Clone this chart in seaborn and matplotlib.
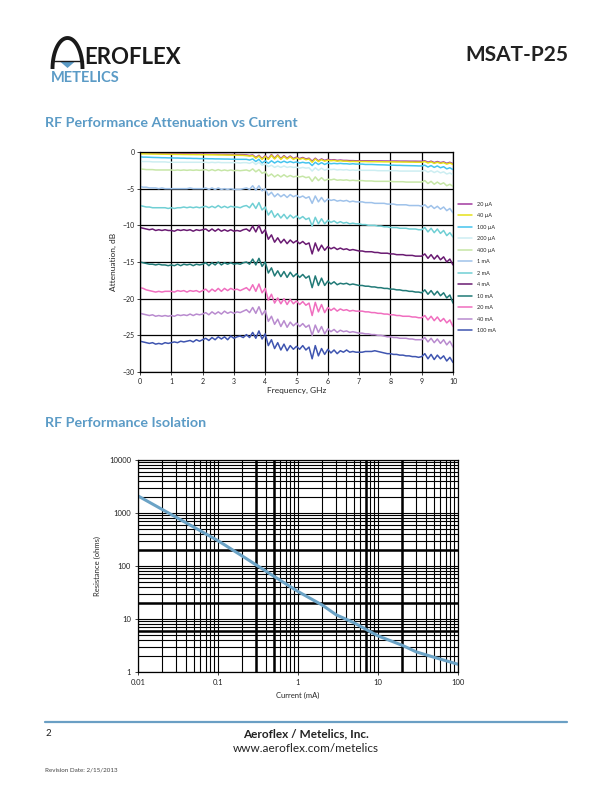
import numpy as np
import pandas as pd
import matplotlib
matplotlib.use('Agg')
import matplotlib.pyplot as plt
import seaborn as sns

# ---- attenuation vs frequency, one list per bias current (0..10 GHz, 0.1 GHz step)
freq = np.round(np.linspace(0, 10, 101), 1)
labels = ['20 µA', '40 µA', '100 µA', '200 µA', '400 µA', '1 mA', '2 mA', '4 mA', '10 mA', '20 mA', '40 mA', '100 mA']
colors = ['#a2399f', '#e6e01a', '#45c4ee', '#cdeef2', '#c6e6a6', '#9fc2ea', '#70cfd4', '#6a1b72', '#217a77', '#f06ebf', '#b98bcf', '#3f55b0']

att_20ua = [-0.12, -0.13, -0.14, -0.15, -0.16, -0.17, -0.18, -0.19, -0.2, -0.2, -0.21, -0.22, -0.22, -0.23, -0.24, -0.24, -0.25, -0.26, -0.26, -0.27,
            -0.28, -0.28, -0.29, -0.3, -0.3, -0.31, -0.32, -0.32, -0.33, -0.34, -0.34, -0.35, -0.36, -0.37, -0.4, -0.48, -0.4, -0.75, -0.45, -0.9,
            -0.5, -0.9, -0.35, -0.85, -0.4, -0.9, -0.5, -0.85, -0.55, -0.9, -0.7, -0.9, -0.75, -0.95, -0.85, -1.25, -0.85, -1.2, -0.95, -1.15,
            -1.0, -1.1, -1.05, -1.15, -1.1, -1.15, -1.15, -1.18, -1.18, -1.2, -1.2, -1.2, -1.2, -1.21, -1.21, -1.22, -1.22, -1.22, -1.23, -1.23,
            -1.24, -1.24, -1.24, -1.25, -1.25, -1.25, -1.26, -1.26, -1.26, -1.27, -1.27, -1.2, -1.4, -1.25, -1.45, -1.3, -1.45, -1.35, -1.55, -1.4, -1.6]
att_40ua = [-0.25, -0.25, -0.26, -0.27, -0.28, -0.28, -0.29, -0.3, -0.3, -0.31, -0.32, -0.32, -0.33, -0.33, -0.34, -0.34, -0.35, -0.35, -0.36, -0.36,
            -0.37, -0.37, -0.38, -0.38, -0.39, -0.4, -0.4, -0.41, -0.42, -0.42, -0.43, -0.44, -0.45, -0.46, -0.5, -0.55, -0.5, -0.85, -0.55, -1.0,
            -0.6, -1.0, -0.45, -0.95, -0.5, -1.0, -0.6, -0.95, -0.65, -1.0, -0.8, -1.0, -0.85, -1.05, -0.95, -1.4, -0.95, -1.3, -1.05, -1.25,
            -1.1, -1.2, -1.15, -1.25, -1.2, -1.25, -1.25, -1.3, -1.28, -1.3, -1.3, -1.3, -1.3, -1.32, -1.32, -1.32, -1.33, -1.33, -1.34, -1.34,
            -1.35, -1.35, -1.36, -1.36, -1.37, -1.37, -1.38, -1.38, -1.39, -1.39, -1.4, -1.3, -1.5, -1.35, -1.55, -1.4, -1.55, -1.45, -1.65, -1.5, -1.7]
att_100ua = [-0.65, -0.7, -0.7, -0.72, -0.74, -0.75, -0.76, -0.78, -0.78, -0.8, -0.8, -0.82, -0.82, -0.84, -0.84, -0.86, -0.86, -0.88, -0.88, -0.9,
             -0.9, -0.9, -0.92, -0.92, -0.94, -0.94, -0.95, -0.96, -0.96, -0.98, -0.98, -1.0, -1.0, -1.0, -1.0, -1.1, -0.95, -1.3, -1.0, -1.5,
             -1.2, -1.55, -1.2, -1.5, -1.25, -1.45, -1.25, -1.45, -1.3, -1.45, -1.35, -1.5, -1.4, -1.5, -1.45, -1.85, -1.4, -1.7, -1.45, -1.7,
             -1.5, -1.6, -1.55, -1.6, -1.55, -1.6, -1.6, -1.65, -1.6, -1.65, -1.65, -1.65, -1.7, -1.7, -1.7, -1.72, -1.74, -1.75, -1.76, -1.78,
             -1.8, -1.8, -1.82, -1.82, -1.84, -1.85, -1.86, -1.87, -1.88, -1.9, -1.9, -1.8, -2.05, -1.85, -2.1, -1.9, -2.15, -2.0, -2.3, -2.15, -2.4]
att_200ua = [-1.25, -1.3, -1.3, -1.3, -1.35, -1.35, -1.35, -1.35, -1.35, -1.4, -1.4, -1.4, -1.4, -1.4, -1.4, -1.4, -1.4, -1.4, -1.4, -1.4,
             -1.4, -1.4, -1.45, -1.4, -1.45, -1.4, -1.45, -1.45, -1.45, -1.45, -1.45, -1.45, -1.5, -1.45, -1.45, -1.55, -1.35, -1.7, -1.4, -1.8,
             -1.6, -2.0, -1.8, -2.1, -1.9, -2.1, -1.9, -2.1, -2.0, -2.1, -2.05, -2.2, -2.1, -2.2, -2.15, -2.6, -2.15, -2.5, -2.2, -2.5,
             -2.3, -2.4, -2.35, -2.45, -2.4, -2.45, -2.4, -2.5, -2.45, -2.5, -2.45, -2.5, -2.5, -2.5, -2.5, -2.5, -2.55, -2.55, -2.55, -2.55,
             -2.55, -2.55, -2.55, -2.6, -2.6, -2.6, -2.6, -2.6, -2.6, -2.6, -2.6, -2.5, -2.75, -2.55, -2.8, -2.6, -2.85, -2.7, -3.0, -2.85, -3.1]
att_400ua = [-2.3, -2.35, -2.4, -2.4, -2.4, -2.45, -2.45, -2.45, -2.45, -2.45, -2.45, -2.5, -2.45, -2.5, -2.45, -2.5, -2.45, -2.5, -2.45, -2.5,
             -2.45, -2.4, -2.55, -2.4, -2.55, -2.4, -2.55, -2.45, -2.55, -2.45, -2.55, -2.5, -2.55, -2.5, -2.45, -2.6, -2.3, -2.7, -2.4, -2.9,
             -2.7, -3.3, -3.0, -3.4, -3.1, -3.4, -3.1, -3.4, -3.2, -3.4, -3.3, -3.4, -3.3, -3.5, -3.4, -4.0, -3.4, -3.9, -3.5, -3.9,
             -3.7, -3.8, -3.7, -3.85, -3.8, -3.85, -3.8, -3.9, -3.85, -3.9, -3.9, -3.9, -3.95, -3.95, -3.95, -4.0, -4.0, -4.0, -4.0, -4.0,
             -4.0, -4.05, -4.05, -4.05, -4.05, -4.1, -4.1, -4.1, -4.1, -4.1, -4.1, -3.9, -4.3, -4.0, -4.4, -4.1, -4.4, -4.2, -4.6, -4.4, -4.7]
att_1ma = [-4.7, -4.8, -4.8, -4.9, -4.9, -4.9, -5.0, -4.9, -5.0, -5.0, -5.0, -5.0, -5.0, -5.0, -5.0, -5.0, -4.9, -5.0, -5.0, -5.0,
           -5.0, -4.9, -5.1, -4.9, -5.1, -4.9, -5.1, -5.0, -5.1, -5.0, -5.1, -5.1, -5.1, -5.0, -4.9, -5.1, -4.6, -5.2, -4.6, -5.3,
           -5.0, -5.9, -5.5, -6.1, -5.7, -6.1, -5.8, -6.2, -5.8, -6.1, -5.9, -6.2, -6.0, -6.3, -6.1, -7.0, -6.0, -6.8, -6.2, -6.8,
           -6.4, -6.6, -6.5, -6.7, -6.6, -6.7, -6.6, -6.8, -6.7, -6.8, -6.8, -6.8, -6.9, -6.9, -6.9, -7.0, -7.0, -7.0, -7.0, -7.1,
           -7.1, -7.1, -7.2, -7.2, -7.2, -7.2, -7.3, -7.3, -7.3, -7.3, -7.4, -7.2, -7.6, -7.3, -7.7, -7.4, -7.8, -7.5, -8.0, -7.7, -8.3]
att_2ma = [-7.3, -7.4, -7.5, -7.5, -7.6, -7.6, -7.6, -7.6, -7.6, -7.7, -7.6, -7.7, -7.6, -7.6, -7.5, -7.6, -7.5, -7.6, -7.5, -7.6,
           -7.5, -7.4, -7.6, -7.4, -7.6, -7.3, -7.6, -7.4, -7.6, -7.4, -7.5, -7.5, -7.6, -7.4, -7.3, -7.6, -7.0, -7.7, -6.9, -7.9,
           -7.5, -8.6, -8.0, -8.9, -8.4, -9.0, -8.5, -9.1, -8.6, -9.0, -8.7, -9.1, -8.8, -9.2, -9.0, -10.1, -8.9, -9.8, -9.1, -9.8,
           -9.3, -9.6, -9.4, -9.7, -9.5, -9.7, -9.6, -9.8, -9.7, -9.8, -9.8, -9.9, -9.9, -10.0, -10.0, -10.0, -10.1, -10.1, -10.2, -10.2,
           -10.3, -10.3, -10.3, -10.4, -10.4, -10.4, -10.5, -10.5, -10.5, -10.6, -10.6, -10.3, -10.9, -10.4, -11.0, -10.5, -11.1, -10.7, -11.4, -11.0, -11.6]
att_4ma = [-10.3, -10.4, -10.5, -10.6, -10.5, -10.7, -10.6, -10.7, -10.6, -10.7, -10.7, -10.8, -10.6, -10.7, -10.6, -10.7, -10.6, -10.8, -10.6, -10.7,
           -10.6, -10.5, -10.8, -10.5, -10.8, -10.5, -10.8, -10.6, -10.8, -10.6, -10.8, -10.7, -10.8, -10.6, -10.5, -10.8, -10.1, -10.9, -10.0, -11.1,
           -10.6, -11.9, -11.3, -12.3, -11.7, -12.4, -11.9, -12.5, -12.0, -12.4, -12.1, -12.5, -12.2, -12.6, -12.4, -13.9, -12.4, -13.5, -12.7, -13.4,
           -12.9, -13.2, -13.0, -13.3, -13.1, -13.3, -13.2, -13.4, -13.3, -13.4, -13.5, -13.5, -13.6, -13.6, -13.6, -13.7, -13.7, -13.8, -13.8, -13.8,
           -13.9, -13.9, -14.0, -14.0, -14.0, -14.1, -14.1, -14.1, -14.2, -14.2, -14.2, -13.9, -14.5, -14.0, -14.6, -14.1, -14.7, -14.3, -15.0, -14.6, -15.4]
att_10ma = [-15.0, -15.1, -15.2, -15.3, -15.3, -15.4, -15.3, -15.4, -15.4, -15.5, -15.4, -15.5, -15.3, -15.5, -15.3, -15.4, -15.3, -15.5, -15.3, -15.4,
            -15.3, -15.1, -15.5, -15.1, -15.4, -15.0, -15.4, -15.1, -15.3, -15.1, -15.3, -15.2, -15.3, -15.1, -15.0, -15.3, -14.6, -15.4, -14.5, -15.6,
            -15.0, -16.5, -15.8, -16.9, -16.2, -17.0, -16.3, -17.1, -16.4, -17.0, -16.6, -17.1, -16.7, -17.2, -16.9, -18.5, -16.9, -18.2, -17.2, -18.2,
            -17.6, -18.0, -17.7, -18.1, -17.9, -18.0, -17.9, -18.1, -18.0, -18.1, -18.2, -18.2, -18.3, -18.3, -18.4, -18.4, -18.5, -18.5, -18.6, -18.6,
            -18.7, -18.7, -18.8, -18.8, -18.9, -18.9, -19.0, -19.0, -19.1, -19.1, -19.2, -18.8, -19.4, -18.9, -19.5, -19.0, -19.6, -19.2, -19.9, -19.5, -20.6]
att_20ma = [-18.5, -18.6, -18.8, -18.9, -19.0, -19.1, -19.0, -19.1, -19.0, -19.0, -19.0, -19.1, -18.9, -19.0, -18.9, -19.1, -18.9, -19.0, -18.9, -19.1,
            -18.9, -18.7, -19.1, -18.7, -19.0, -18.6, -19.0, -18.6, -18.9, -18.6, -18.8, -18.7, -18.9, -18.7, -18.5, -18.9, -18.1, -19.0, -18.0, -19.2,
            -18.6, -20.2, -19.4, -20.6, -19.9, -20.7, -20.0, -20.8, -20.1, -20.7, -20.3, -20.8, -20.4, -20.9, -20.6, -22.3, -20.5, -21.8, -20.8, -21.9,
            -21.2, -21.6, -21.3, -21.7, -21.4, -21.6, -21.5, -21.7, -21.6, -21.7, -21.7, -21.7, -21.8, -21.8, -21.9, -21.9, -22.0, -22.0, -22.1, -22.1,
            -22.2, -22.2, -22.3, -22.3, -22.4, -22.4, -22.4, -22.5, -22.5, -22.6, -22.6, -22.3, -22.9, -22.4, -23.0, -22.5, -23.1, -22.7, -23.3, -22.9, -23.8]
att_40ma = [-22.0, -22.1, -22.2, -22.3, -22.2, -22.4, -22.3, -22.4, -22.3, -22.4, -22.3, -22.4, -22.2, -22.3, -22.2, -22.3, -22.1, -22.3, -22.1, -22.2,
            -22.1, -21.9, -22.2, -21.8, -22.1, -21.8, -22.1, -21.7, -22.0, -21.8, -22.0, -21.8, -21.9, -21.7, -21.5, -21.9, -21.2, -22.0, -21.1, -22.2,
            -21.6, -23.1, -22.4, -23.5, -22.8, -23.8, -23.0, -23.9, -23.2, -23.7, -23.3, -23.8, -23.4, -23.9, -23.6, -25.0, -23.6, -24.6, -23.8, -24.8,
            -24.1, -24.5, -24.2, -24.6, -24.3, -24.5, -24.4, -24.6, -24.5, -24.6, -24.7, -24.7, -24.8, -24.8, -24.9, -24.9, -25.0, -25.0, -25.1, -25.2,
            -25.2, -25.3, -25.3, -25.4, -25.4, -25.4, -25.5, -25.5, -25.6, -25.6, -25.6, -25.3, -25.9, -25.4, -26.0, -25.5, -26.1, -25.6, -26.3, -25.8, -26.6]
att_100ma = [-25.8, -25.9, -26.0, -26.1, -26.0, -26.2, -26.1, -26.2, -26.0, -26.1, -26.0, -25.9, -26.0, -25.8, -25.9, -25.8, -25.7, -25.9, -25.6, -25.8,
             -25.6, -25.4, -25.7, -25.3, -25.6, -25.2, -25.5, -25.2, -25.6, -25.1, -25.4, -25.2, -25.1, -25.3, -24.9, -25.3, -24.6, -25.4, -24.4, -25.5,
             -24.8, -26.4, -25.6, -26.8, -26.0, -27.0, -26.2, -27.1, -26.4, -26.9, -26.5, -26.9, -26.4, -27.0, -26.6, -28.2, -26.4, -27.8, -26.8, -27.6,
             -26.9, -27.4, -27.0, -27.5, -27.1, -27.3, -27.0, -27.3, -27.2, -27.3, -27.3, -27.3, -27.2, -27.2, -27.2, -27.1, -27.2, -27.3, -27.4, -27.5,
             -27.5, -27.6, -27.6, -27.7, -27.7, -27.8, -27.8, -27.9, -27.9, -28.0, -27.9, -27.5, -28.2, -27.6, -28.3, -27.7, -28.2, -27.8, -28.5, -28.0, -28.7]

series = [att_20ua, att_40ua, att_100ua, att_200ua, att_400ua, att_1ma,
          att_2ma, att_4ma, att_10ma, att_20ma, att_40ma, att_100ma]

# ---- isolation: resistance vs current
current_ma = [0.01, 0.02, 0.05, 0.1, 0.2, 0.5, 1, 2, 3, 5, 10, 20, 30, 50, 100]
resistance = [2100, 1170, 540, 300, 155, 64, 33, 18.4, 12, 8.5, 4.8, 3.2, 2.4, 1.9, 1.4]

blue = '#5b9bc6'
sns.set_style('white')
plt.rcParams['font.family'] = ['Lato', 'DejaVu Sans']

fig = plt.figure(figsize=(6.12, 7.92), dpi=100)

# page decoration layer in pixel coordinates
page = fig.add_axes([0, 0, 1, 1])
page.set_xlim(0, 612)
page.set_ylim(792, 0)
page.axis('off')

t = np.linspace(0, np.pi, 60)
page.plot(67.5 - 15 * np.cos(t), 69 - 31 * np.sin(t), color='#1a1a1a', lw=2.8, solid_capstyle='butt')
page.plot([52, 83], [60.5, 60.5], color='#1a1a1a', lw=1.0)
page.fill([60, 75, 67.5], [61.5, 61.5, 68], color=blue, lw=0)
page.text(84, 58, 'EROFLEX', fontsize=16, color='#1a1a1a', va='center', ha='left', fontweight='bold')
page.text(51, 78, 'METELICS', fontsize=10.5, color=blue, va='center', ha='left', fontweight='bold')
page.text(568, 55, 'MSAT-P25', fontsize=15, color='#222222', va='center', ha='right', fontweight='bold')

page.text(45, 123, 'RF Performance Attenuation vs Current', fontsize=10.3, color=blue, va='center', fontweight='bold')
page.text(45, 423, 'RF Performance Isolation', fontsize=10.3, color=blue, va='center', fontweight='bold')

page.plot([45, 567], [722, 722], color='#6a9fc4', lw=1.6)
page.text(45, 733, '2', fontsize=7, color='#222222', va='center')
page.text(306, 734, 'Aeroflex / Metelics, Inc.', fontsize=8.5, color='#222222', va='center', ha='center', fontweight='bold')
page.text(306, 748, 'www.aeroflex.com/metelics', fontsize=8.5, color='#222222', va='center', ha='center')
page.text(45, 770, 'Revision Date: 2/15/2013', fontsize=4.5, color='#444444', va='center')

# ---- top chart
ax1 = fig.add_axes([140 / 612, 1 - 372 / 792, 313 / 612, 220 / 792])
rows = []
for lab, vals in zip(labels, series):
    rows.append(pd.DataFrame({'freq': freq, 'att': vals, 'current': lab}))
df = pd.concat(rows, ignore_index=True)
sns.lineplot(data=df, x='freq', y='att', hue='current', hue_order=labels,
             palette=colors, linewidth=1.1, ax=ax1, estimator=None, sort=False)
ax1.set_xlim(0, 10)
ax1.set_ylim(-30, 0)
ax1.set_xticks(range(0, 11))
ax1.set_yticks(range(-30, 1, 5))
ax1.grid(True, color='black', lw=0.9)
ax1.set_axisbelow(True)
for s in ax1.spines.values():
    s.set_color('black')
    s.set_linewidth(0.9)
ax1.tick_params(axis='both', labelsize=5, length=2, width=0.6, pad=2, colors='#222222', left=True, bottom=True)
ax1.set_xlabel('Frequency, GHz', fontsize=6, labelpad=2)
ax1.set_ylabel('Attenuation, dB', fontsize=6, labelpad=4)
ax1.legend(loc='upper left', bbox_to_anchor=(1.01, 0.785), frameon=False, fontsize=4,
           handlelength=2.5, labelspacing=1.17, handletextpad=0.8, borderaxespad=0)

# ---- bottom chart
ax2 = fig.add_axes([138 / 612, 1 - 672 / 792, 320 / 612, 212 / 792])
iso = pd.DataFrame({'current': current_ma, 'resistance': resistance})
sns.lineplot(data=iso, x='current', y='resistance', color='#6ba3c6', linewidth=2.2, ax=ax2)
ax2.set_xscale('log')
ax2.set_yscale('log')
ax2.set_xlim(0.01, 100)
ax2.set_ylim(1, 10000)
ax2.grid(True, which='both', color='black', lw=0.8)
for xv in [0.3, 0.5, 7, 20]:
    ax2.axvline(xv, color='black', lw=1.8, zorder=0.5)
for yv in [200, 20, 6]:
    ax2.axhline(yv, color='black', lw=1.8, zorder=0.5)
ax2.set_axisbelow(True)
ax2.set_xticks([0.01, 0.1, 1, 10, 100])
ax2.set_xticklabels(['0.01', '0.1', '1', '10', '100'])
ax2.set_yticks([1, 10, 100, 1000, 10000])
ax2.set_yticklabels(['1', '10', '100', '1000', '10000'])
for s in ax2.spines.values():
    s.set_color('black')
    s.set_linewidth(0.9)
ax2.tick_params(axis='both', which='major', labelsize=5.5, length=2, width=0.6, pad=3, colors='#222222', left=True, bottom=True)
ax2.tick_params(axis='both', which='minor', length=0)
ax2.set_xlabel('Current (mA)', fontsize=5.5, labelpad=4)
ax2.set_ylabel('Resistance (ohms)', fontsize=5.5, labelpad=6)

fig.savefig('out.png', dpi=100)
